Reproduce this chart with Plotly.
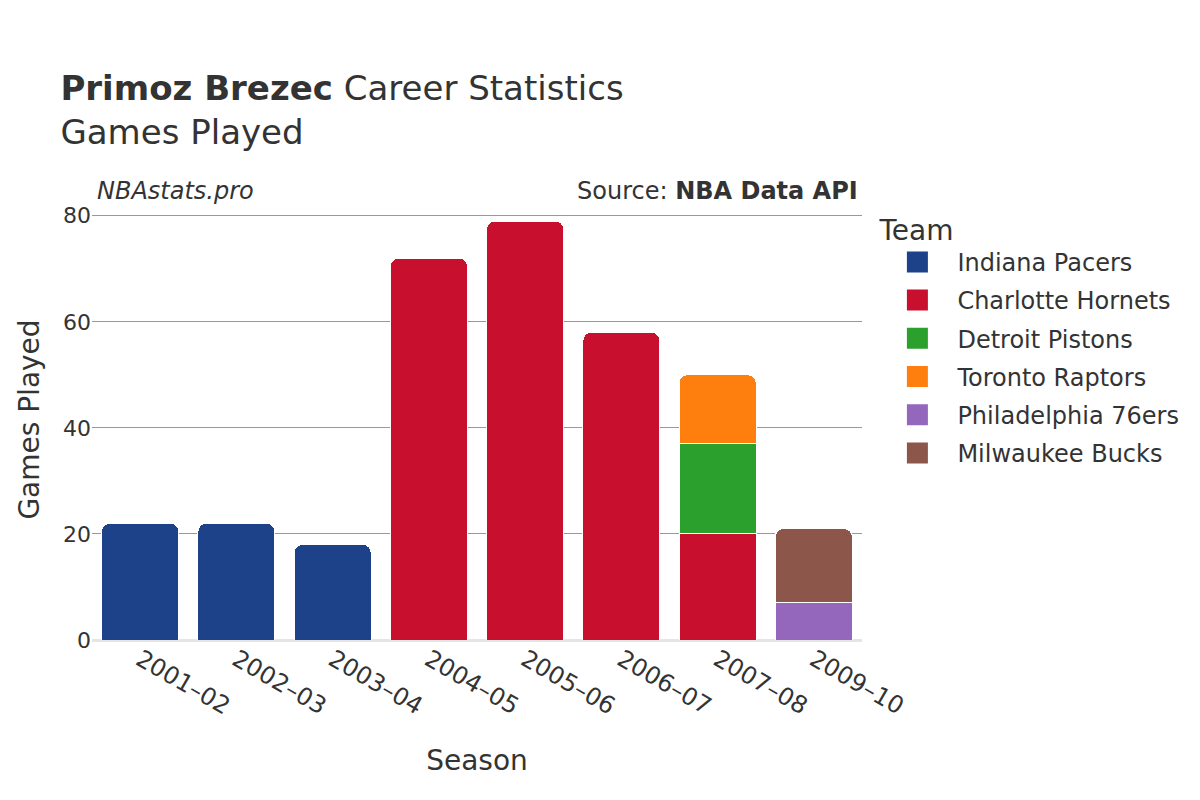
import plotly.graph_objects as go

seasons = ["2001–02", "2002–03", "2003–04", "2004–05", "2005–06", "2006–07", "2007–08", "2009–10"]
teams = ["Indiana Pacers", "Charlotte Hornets", "Detroit Pistons", "Toronto Raptors", "Philadelphia 76ers", "Milwaukee Bucks"]
colors = ["#1d428a", "#c8102e", "#2ca02c", "#ff7f0e", "#9467bd", "#8c564b"]
games = {
    "Indiana Pacers":     [22, 22, 18, None, None, None, None, None],
    "Charlotte Hornets":  [None, None, None, 72, 79, 58, 20, None],
    "Detroit Pistons":    [None, None, None, None, None, None, 17, None],
    "Toronto Raptors":    [None, None, None, None, None, None, 13, None],
    "Philadelphia 76ers": [None, None, None, None, None, None, None, 7],
    "Milwaukee Bucks":    [None, None, None, None, None, None, None, 14],
}
y_ticks = [0, 20, 40, 60, 80]

fig = go.Figure()
for team, color in zip(teams, colors):
    fig.add_trace(go.Bar(
        x=seasons, y=games[team], name=team, legendgroup=team, showlegend=False,
        marker=dict(color=color, line=dict(color="white", width=1)),
    ))
# legend entries (larger squares)
for team, color in zip(teams, colors):
    fig.add_trace(go.Scatter(
        x=[None], y=[None], mode="markers", name=team, legendgroup=team,
        marker=dict(symbol="square", size=16, color=color, line=dict(color=color, width=5)),
    ))

fig.update_layout(
    width=1200, height=800,
    barmode="stack",
    barcornerradius=8,
    bargap=0.2,
    plot_bgcolor="white", paper_bgcolor="white",
    font=dict(family="DejaVu Sans", color="#333333", size=22),
    title=dict(
        text="<b>Primoz Brezec</b> Career Statistics<br>Games Played",
        x=0.0437, xanchor="left", y=0.885, yanchor="top",
        font=dict(size=34, color="#333333"),
    ),
    margin=dict(l=84, r=346, t=191, b=168),
    xaxis=dict(
        title=dict(text="Season", font=dict(size=28), standoff=30),
        tickangle=30, tickfont=dict(size=24),
        showgrid=False,
    ),
    yaxis=dict(
        title=dict(text="Games Played", font=dict(size=28)),
        tickvals=y_ticks,
        tickfont=dict(size=22),
        showgrid=True, gridcolor="#999999", gridwidth=1,
        zeroline=True, zerolinecolor="#e5e5e5", zerolinewidth=3,
    ),
    legend=dict(
        title=dict(text="Team", font=dict(size=28)),
        x=1.02, xanchor="left", y=0.99, yanchor="top",
        font=dict(size=24), itemwidth=70,
        traceorder="grouped", tracegroupgap=4,
    ),
    annotations=[
        dict(text="<i>NBAstats.pro</i>", xref="paper", yref="paper", x=0.0045, y=1.018,
             xanchor="left", yanchor="middle", showarrow=False, font=dict(size=24, color="#333333")),
        dict(text="Source: <b>NBA Data API</b>", xref="paper", yref="paper", x=0.9974, y=1.018,
             xanchor="right", yanchor="middle", showarrow=False, font=dict(size=24, color="#333333")),
    ],
)

fig.write_html("out.html")
